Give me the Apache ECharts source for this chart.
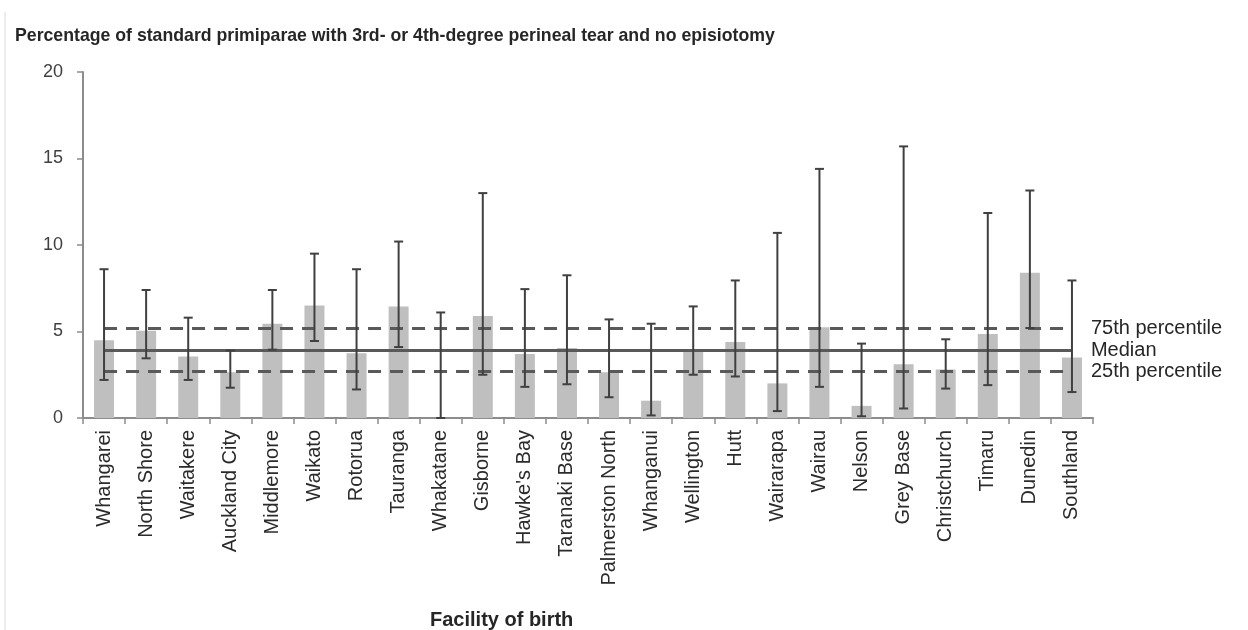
<!DOCTYPE html>
<html>
<head>
<meta charset="utf-8">
<script src="https://cdn.jsdelivr.net/npm/echarts@6/dist/echarts.min.js"></script>
<style>
  html, body { margin: 0; padding: 0; background: #fff; }
  #chart { width: 1248px; height: 630px; }
</style>
</head>
<body>
<div id="chart"></div>
<script>
// facilities and rates (%)
const facilities = ["Whangarei", "North Shore", "Waitakere", "Auckland City", "Middlemore", "Waikato",
  "Rotorua", "Tauranga", "Whakatane", "Gisborne", "Hawke's Bay", "Taranaki Base", "Palmerston North",
  "Whanganui", "Wellington", "Hutt", "Wairarapa", "Wairau", "Nelson", "Grey Base", "Christchurch",
  "Timaru", "Dunedin", "Southland"];
const rates = [4.5, 5.05, 3.55, 2.65, 5.45, 6.5, 3.75, 6.45, 0, 5.9, 3.7, 4.05, 2.65, 1.0, 3.85, 4.4,
  2.0, 5.25, 0.7, 3.1, 2.8, 4.85, 8.4, 3.5];
// confidence intervals
const ciLow = [2.2, 3.45, 2.2, 1.75, 3.95, 4.45, 1.65, 4.1, 0, 2.5, 1.8, 1.95, 1.2, 0.15, 2.5, 2.4,
  0.4, 1.8, 0.1, 0.55, 1.7, 1.9, 5.2, 1.5];
const ciHigh = [8.6, 7.4, 5.8, 3.9, 7.4, 9.5, 8.6, 10.2, 6.1, 13.0, 7.45, 8.25, 5.7, 5.45, 6.45, 7.95,
  10.7, 14.4, 4.3, 15.7, 4.55, 11.85, 13.15, 7.95];
// reference lines
const refNames = ["75th percentile", "Median", "25th percentile"];
const refValues = [5.2, 3.9, 2.7];

const textColor = "#404040";
const axisColor = "#8c8c8c";
const lineColor = "#595959";

const chart = echarts.init(document.getElementById("chart"));

//误差线
const errorData = facilities.map((f, i) => [i, ciLow[i], ciHigh[i]]);
const renderError = (params, api) => {
  const lo = api.coord([api.value(0), api.value(1)]);
  const hi = api.coord([api.value(0), api.value(2)]);
  const cap = 4.5;
  const style = { stroke: "#404040", lineWidth: 2 };
  return {
    type: "group",
    children: [
      { type: "line", shape: { x1: hi[0], y1: hi[1], x2: lo[0], y2: lo[1] }, style },
      { type: "line", shape: { x1: hi[0] - cap, y1: hi[1], x2: hi[0] + cap, y2: hi[1] }, style },
      { type: "line", shape: { x1: lo[0] - cap, y1: lo[1], x2: lo[0] + cap, y2: lo[1] }, style }
    ]
  };
};

const refLines = refNames.map((name, i) => [
  { coord: [0, refValues[i]], name: name,
    lineStyle: { type: i === 1 ? "solid" : [13, 9] } },
  { coord: [facilities.length - 1, refValues[i]] }
]);

const option = {
  animation: false,
  title: {
    text: "Percentage of standard primiparae with 3rd- or 4th-degree perineal tear and no episiotomy",
    left: 15,
    top: 27,
    padding: 0,
    textStyle: {
      fontFamily: "'Liberation Sans', Arial, sans-serif",
      fontSize: 17.7,
      fontWeight: "bold",
      color: "#262626"
    }
  },
  graphic: [
    { type: "line", shape: { x1: 5, y1: 12, x2: 5, y2: 630 }, style: { stroke: "#d9d9d9", lineWidth: 1 } },
    { type: "text", left: 430, top: 610,
      style: { text: "Facility of birth", font: "bold 20px 'Liberation Sans', Arial, sans-serif", fill: "#262626" } }
  ],
  grid: { left: 83, right: 155, top: 72, bottom: 212 },
  xAxis: {
    type: "category",
    data: facilities,
    axisLine: { lineStyle: { color: axisColor, width: 2 } },
    axisTick: { show: true, length: 6, lineStyle: { color: axisColor, width: 1.5 } },
    axisLabel: {
      rotate: 90,
      interval: 0,
      margin: 12,
      fontSize: 20,
      fontFamily: "'Liberation Sans', Arial, sans-serif",
      color: "#2b2b2b"
    }
  },
  yAxis: {
    type: "value",
    min: 0,
    max: 20,
    interval: 5,
    splitLine: { show: false },
    axisLine: { show: true, lineStyle: { color: axisColor, width: 2 } },
    axisTick: { show: true, length: 6, lineStyle: { color: axisColor, width: 1.5 } },
    axisLabel: {
      margin: 20,
      fontSize: 18,
      fontFamily: "'Liberation Sans', Arial, sans-serif",
      color: textColor
    }
  },
  series: [
    {
      type: "bar",
      data: rates,
      barWidth: 20,
      itemStyle: { color: "#bfbfbf" },
      markLine: {
        silent: true,
        symbol: "none",
        lineStyle: { color: lineColor, width: 3 },
        label: {
          show: true,
          position: "end",
          distance: 19,
          formatter: "{b}",
          fontSize: 20,
          fontFamily: "'Liberation Sans', Arial, sans-serif",
          color: "#262626"
        },
        data: refLines
      }
    },
    {
      type: "custom",
      renderItem: renderError,
      data: errorData,
      z: 5
    }
  ]
};

chart.setOption(option);
window.addEventListener("resize", chart.resize);
</script>
</body>
</html>
